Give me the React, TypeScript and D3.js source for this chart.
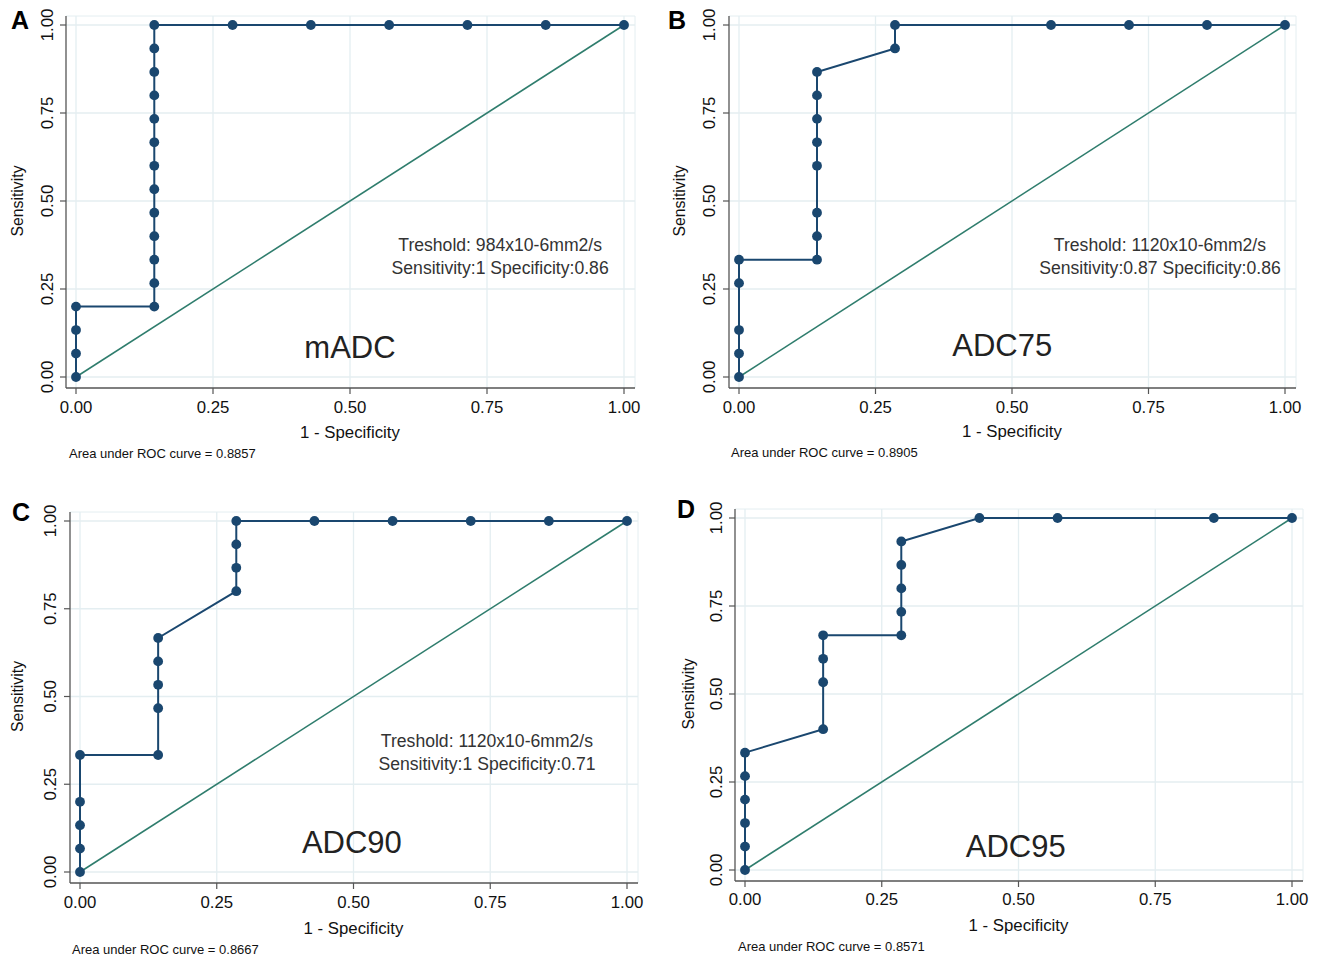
import React from "react";
import * as d3 from "d3";

// ---- data ----
const xTicks = [0, 0.25, 0.5, 0.75, 1];
const yTicks = [0, 0.25, 0.5, 0.75, 1];
const tickLabels = ["0.00", "0.25", "0.50", "0.75", "1.00"];

const fprA = [0, 0, 0, 0, 1/7, 1/7, 1/7, 1/7, 1/7, 1/7, 1/7, 1/7, 1/7, 1/7, 1/7, 1/7, 1/7, 2/7, 3/7, 4/7, 5/7, 6/7, 1];
const tprA = [0, 1/15, 2/15, 3/15, 3/15, 4/15, 5/15, 6/15, 7/15, 8/15, 9/15, 10/15, 11/15, 12/15, 13/15, 14/15, 1, 1, 1, 1, 1, 1, 1];

const fprB = [0, 0, 0, 0, 0, 1/7, 1/7, 1/7, 1/7, 1/7, 1/7, 1/7, 1/7, 2/7, 2/7, 4/7, 5/7, 6/7, 1];
const tprB = [0, 1/15, 2/15, 4/15, 5/15, 5/15, 6/15, 7/15, 9/15, 10/15, 11/15, 12/15, 13/15, 14/15, 1, 1, 1, 1, 1];

const fprC = [0, 0, 0, 0, 0, 1/7, 1/7, 1/7, 1/7, 1/7, 2/7, 2/7, 2/7, 2/7, 3/7, 4/7, 5/7, 6/7, 1];
const tprC = [0, 1/15, 2/15, 3/15, 5/15, 5/15, 7/15, 8/15, 9/15, 10/15, 12/15, 13/15, 14/15, 1, 1, 1, 1, 1, 1];

const fprD = [0, 0, 0, 0, 0, 0, 1/7, 1/7, 1/7, 1/7, 2/7, 2/7, 2/7, 2/7, 2/7, 3/7, 4/7, 6/7, 1];
const tprD = [0, 1/15, 2/15, 3/15, 4/15, 5/15, 6/15, 8/15, 9/15, 10/15, 10/15, 11/15, 12/15, 13/15, 14/15, 1, 1, 1, 1];

const panelLetters = ["A", "B", "C", "D"];
const markerNames = ["mADC", "ADC75", "ADC90", "ADC95"];
const aucValues = ["0.8857", "0.8905", "0.8667", "0.8571"];
const thresholdLines = [
  ["Treshold: 984x10-6mm2/s", "Sensitivity:1 Specificity:0.86"],
  ["Treshold: 1120x10-6mm2/s", "Sensitivity:0.87 Specificity:0.86"],
  ["Treshold: 1120x10-6mm2/s", "Sensitivity:1 Specificity:0.71"],
  [],
];
const fprs = [fprA, fprB, fprC, fprD];
const tprs = [tprA, tprB, tprC, tprD];

// ---- layout ----
const layouts = [
  { x0: 76, x1: 624, yT: 25, yB: 377, xtY: 407, titleY: 432, aucX: 69, aucY: 453, ytX: 47, ytitleX: 17, lx: 11, ly: 29, nameX: 0.5, nameY: 0.085, annX: 0.774, annY: 0.375 },
  { x0: 739, x1: 1285, yT: 25, yB: 377, xtY: 407, titleY: 431, aucX: 731, aucY: 452, ytX: 709, ytitleX: 679, lx: 668, ly: 29, nameX: 0.482, nameY: 0.09, annX: 0.771, annY: 0.375 },
  { x0: 80, x1: 627, yT: 521, yB: 872, xtY: 902, titleY: 928, aucX: 72, aucY: 949, ytX: 50, ytitleX: 17, lx: 12, ly: 521, nameX: 0.497, nameY: 0.085, annX: 0.744, annY: 0.373 },
  { x0: 745, x1: 1292, yT: 518, yB: 870, xtY: 899, titleY: 925, aucX: 738, aucY: 946, ytX: 716, ytitleX: 688, lx: 677, ly: 518, nameX: 0.495, nameY: 0.068, annX: 0.77, annY: 0.375 },
];

const NAVY = "#1a476f";
const TEAL = "#2f7d6d";
const GRID = "#e4eef1";
const AXIS = "#555";
const FONT = "'Liberation Sans', Arial, Helvetica, sans-serif";

function Panel({ i }: { i: number }) {
  const L = layouts[i];
  const x = d3.scaleLinear().domain([0, 1]).range([L.x0, L.x1]);
  const y = d3.scaleLinear().domain([0, 1]).range([L.yB, L.yT]);
  const left = L.x0 - 10;
  const right = L.x1 + 11;
  const top = L.yT - 9;
  const bottom = L.yB + 11;
  const pts = fprs[i].map((f, k) => [f, tprs[i][k]] as [number, number]);
  const line = d3.line<[number, number]>().x((d) => x(d[0])).y((d) => y(d[1]));
  const cx = (L.x0 + L.x1) / 2;
  const cy = (L.yT + L.yB) / 2;
  return (
    <g>
      {xTicks.map((t) => (
        <line key={"gx" + t} x1={x(t)} x2={x(t)} y1={top} y2={bottom} stroke={GRID} strokeWidth={1.3} />
      ))}
      {yTicks.map((t) => (
        <line key={"gy" + t} x1={left} x2={right} y1={y(t)} y2={y(t)} stroke={GRID} strokeWidth={1.3} />
      ))}
      <line x1={left} x2={right} y1={top} y2={top} stroke={GRID} strokeWidth={1} />
      <line x1={right} x2={right} y1={top} y2={bottom} stroke={GRID} strokeWidth={1} />
      {/* axes */}
      <line x1={left} x2={left} y1={top} y2={bottom} stroke={AXIS} strokeWidth={1.3} />
      <line x1={left} x2={right} y1={bottom} y2={bottom} stroke={AXIS} strokeWidth={1.3} />
      {xTicks.map((t, k) => (
        <g key={"xt" + t}>
          <line x1={x(t)} x2={x(t)} y1={bottom} y2={bottom + 6} stroke={AXIS} strokeWidth={1.2} />
          <text x={x(t)} y={L.xtY} textAnchor="middle" dominantBaseline="central" fontSize={16.8} fontFamily={FONT} fill="#111">
            {tickLabels[k]}
          </text>
        </g>
      ))}
      {yTicks.map((t, k) => (
        <g key={"yt" + t}>
          <line x1={left - 6} x2={left} y1={y(t)} y2={y(t)} stroke={AXIS} strokeWidth={1.2} />
          <text transform={`translate(${L.ytX},${y(t)}) rotate(-90)`} textAnchor="middle" dominantBaseline="central" fontSize={16.8} fontFamily={FONT} fill="#111">
            {tickLabels[k]}
          </text>
        </g>
      ))}
      {/* diagonal reference */}
      <line x1={x(0)} y1={y(0)} x2={x(1)} y2={y(1)} stroke={TEAL} strokeWidth={1.6} />
      {/* ROC curve */}
      <path d={line(pts) || ""} fill="none" stroke={NAVY} strokeWidth={2} />
      {pts.map((p, k) => (
        <circle key={"p" + k} cx={x(p[0])} cy={y(p[1])} r={4.9} fill={NAVY} />
      ))}
      {/* texts */}
      <text x={cx} y={L.titleY} textAnchor="middle" dominantBaseline="central" fontSize={16.8} fontFamily={FONT} fill="#111">
        1 - Specificity
      </text>
      <text transform={`translate(${L.ytitleX},${cy}) rotate(-90)`} textAnchor="middle" dominantBaseline="central" fontSize={15.8} fontFamily={FONT} fill="#111">
        Sensitivity
      </text>
      <text x={L.aucX} y={L.aucY} dominantBaseline="central" fontSize={13} fontFamily={FONT} fill="#111">
        {"Area under ROC curve = " + aucValues[i]}
      </text>
      <text x={L.lx} y={L.ly} fontSize={25} fontWeight="bold" fontFamily={FONT} fill="#000">
        {panelLetters[i]}
      </text>
      <text x={x(L.nameX)} y={y(L.nameY)} textAnchor="middle" dominantBaseline="central" fontSize={31} fontFamily={FONT} fill="#222">
        {markerNames[i]}
      </text>
      {thresholdLines[i].map((s, k) => (
        <text key={"an" + k} x={x(L.annX)} y={y(L.annY) + k * 23} textAnchor="middle" dominantBaseline="central" fontSize={17.6} fontFamily={FONT} fill="#333">
          {s}
        </text>
      ))}
    </g>
  );
}

export default function App() {
  return (
    <svg width={1318} height={959} style={{ position: "absolute", left: 0, top: 0, background: "#fff" }}>
      <rect x={0} y={0} width={1318} height={959} fill="#fff" />
      {layouts.map((_, i) => (
        <Panel key={i} i={i} />
      ))}
    </svg>
  );
}
